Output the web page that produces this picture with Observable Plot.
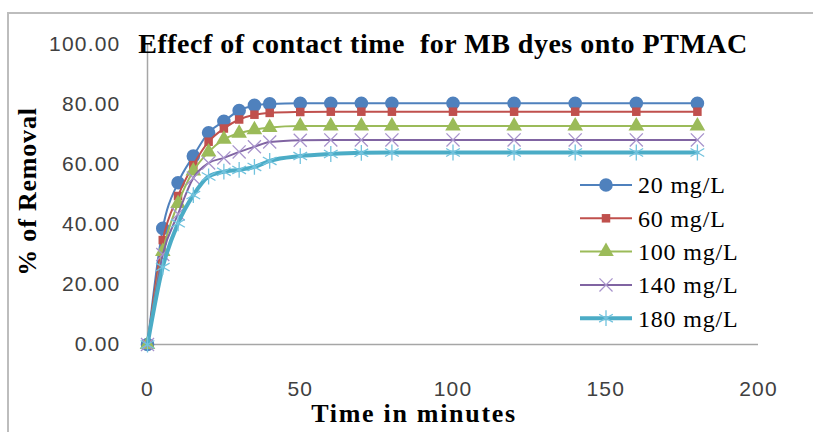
<!DOCTYPE html>
<html>
<head>
<meta charset="utf-8">
<script src="https://cdn.jsdelivr.net/npm/d3@7"></script>
<script src="https://cdn.jsdelivr.net/npm/@observablehq/plot@0.6"></script>
<style>
  html, body { margin: 0; padding: 0; background: #fff; }
  #wrap { position: relative; width: 813px; height: 432px; overflow: hidden; }
  #frame { position: absolute; left: 7px; top: 12px; width: 820px; height: 430px;
           border-left: 2px solid #bdbdbd; border-top: 2px solid #bdbdbd; pointer-events: none; }
</style>
</head>
<body>
<div id="wrap"><div id="frame"></div></div>
<script>
const title = "Effecf of contact time  for MB dyes onto PTMAC";
const xTitle = "Time in minutes";
const yTitle = "% of Removal";
const times = [0, 5, 10, 15, 20, 25, 30, 35, 40, 50, 60, 70, 80, 100, 120, 140, 160, 180];
const seriesNames = ["20 mg/L", "60 mg/L", "100 mg/L", "140 mg/L", "180 mg/L"];
const s20  = [0, 38.7, 53.9, 62.8, 70.6, 74.4, 78.0, 79.7, 80.2, 80.4, 80.4, 80.4, 80.4, 80.4, 80.4, 80.4, 80.4, 80.4];
const s60  = [0, 34.8, 49.5, 59.8, 67.6, 72.0, 75.0, 76.6, 77.2, 77.5, 77.6, 77.6, 77.6, 77.6, 77.6, 77.6, 77.6, 77.6];
const s100 = [0, 31.0, 47.0, 57.8, 64.2, 68.4, 70.4, 71.6, 72.3, 72.8, 72.8, 72.8, 72.8, 72.8, 72.8, 72.8, 72.8, 72.8];
const s140 = [0, 30.0, 43.5, 55.5, 60.5, 62.2, 64.2, 65.9, 67.5, 68.1, 68.2, 68.2, 68.2, 68.2, 68.2, 68.2, 68.2, 68.2];
const s180 = [0, 25.8, 40.4, 49.8, 56.0, 57.6, 58.2, 59.2, 61.2, 62.8, 63.5, 63.9, 64.0, 64.0, 64.0, 64.0, 64.0, 64.0];
const xTicks = [0, 50, 100, 150, 200];
const yTicks = [0, 20, 40, 60, 80, 100];

const allSeries = [s20, s60, s100, s140, s180];
const colors = ["#4F81BD", "#C0504D", "#9BBB59", "#8064A2", "#4BACC6"];
const markerStroke = ["none", "none", "none", "#a893cc", "#72c3de"];
const symbols = ["circle", "square", "triangle", "times", "asterisk"];
const radii = [6.8, 4.8, 5.8, 6, 7.5];
const widths = [2, 2, 2, 2, 4];
const SERIF = "Liberation Serif, Times New Roman, serif";
const SANS = "Liberation Sans, Arial, sans-serif";

const marks = [
  Plot.ruleY([0], {stroke: "#a6a6a6", strokeWidth: 1.5}),
  Plot.ruleX([0], {stroke: "#a6a6a6", strokeWidth: 1.5}),
  Plot.axisX({ticks: xTicks, tickSize: 0, tickPadding: 37, fontSize: 21,
    fontFamily: SANS, label: null, tickFormat: d => String(d)}),
  Plot.axisY({ticks: yTicks, tickSize: 0, tickPadding: 27, fontSize: 21,
    fontFamily: SANS, label: null, tickFormat: d3.format(".2f")})
];

allSeries.forEach((vals, i) => {
  const data = times.map((t, j) => ({t, v: vals[j]}));
  marks.push(Plot.line(data, {x: "t", y: "v", stroke: colors[i], strokeWidth: widths[i], curve: "monotone-x"}));
  const filled = markerStroke[i] === "none";
  marks.push(Plot.dot(data, {x: "t", y: "v", symbol: () => symbols[i], r: radii[i],
    fill: filled ? colors[i] : "none", stroke: markerStroke[i], strokeWidth: 1.3}));
});

marks.push(Plot.text([title], {frameAnchor: "top", dx: -10, lineAnchor: "middle", textAnchor: "middle",
  fontSize: 28, fontWeight: "bold", fill: "#000", text: d => d}));
marks.push(Plot.text([yTitle], {frameAnchor: "left", dx: -120, dy: -3, rotate: -90, lineAnchor: "middle",
  textAnchor: "middle", fontSize: 26, fontWeight: "bold", fill: "#000", text: d => d}));
marks.push(Plot.text([xTitle], {frameAnchor: "bottom", dx: -39, dy: 69, lineAnchor: "middle",
  textAnchor: "middle", fontSize: 26, fontWeight: "bold", fill: "#000", text: d => d}));

const chart = Plot.plot({
  width: 813, height: 432,
  marginLeft: 147, marginRight: 55, marginTop: 44, marginBottom: 88,
  x: {domain: [0, 200]},
  y: {domain: [0, 100]},
  symbol: {type: "identity"},
  style: {background: "transparent", color: "#222", fontFamily: SERIF},
  marks
});

const svg = d3.select(chart);
const texts = svg.selectAll("g[aria-label='text'] text")
  .attr("font-family", SERIF)
  .style("white-space", "pre");
texts.filter(function () { return this.textContent === title; }).style("letter-spacing", "0.5px");
texts.filter(function () { return this.textContent === yTitle; }).style("letter-spacing", "0.8px");
texts.filter(function () { return this.textContent === xTitle; }).style("letter-spacing", "1.7px");
svg.selectAll("g[aria-label='x-axis tick label'] text, g[aria-label='y-axis tick label'] text")
  .attr("fill", "#404040").style("letter-spacing", "1.2px");

// legend
const lg = svg.append("g").attr("class", "legend");
const lx0 = 580, lx1 = 632, ly0 = 185, lstep = 33.3;
const symMap = {circle: d3.symbolCircle, square: d3.symbolSquare, triangle: d3.symbolTriangle,
                times: d3.symbolTimes, asterisk: d3.symbolAsterisk};
seriesNames.forEach((name, i) => {
  const y = ly0 + i * lstep;
  lg.append("line").attr("x1", lx0).attr("x2", lx1).attr("y1", y).attr("y2", y)
    .attr("stroke", colors[i]).attr("stroke-width", widths[i]);
  const filled = markerStroke[i] === "none";
  lg.append("path").attr("d", d3.symbol(symMap[symbols[i]], Math.PI * radii[i] * radii[i])())
    .attr("transform", `translate(${(lx0 + lx1) / 2},${y})`)
    .attr("fill", filled ? colors[i] : "none")
    .attr("stroke", markerStroke[i])
    .attr("stroke-width", 1.3);
  lg.append("text").attr("x", lx1 + 6).attr("y", y).attr("dy", "0.35em")
    .attr("text-anchor", "start")
    .attr("font-family", SERIF)
    .attr("font-size", 24).style("letter-spacing", "0.8px").attr("fill", "#000").text(name);
});

document.getElementById("wrap").prepend(chart);
</script>
</body>
</html>
